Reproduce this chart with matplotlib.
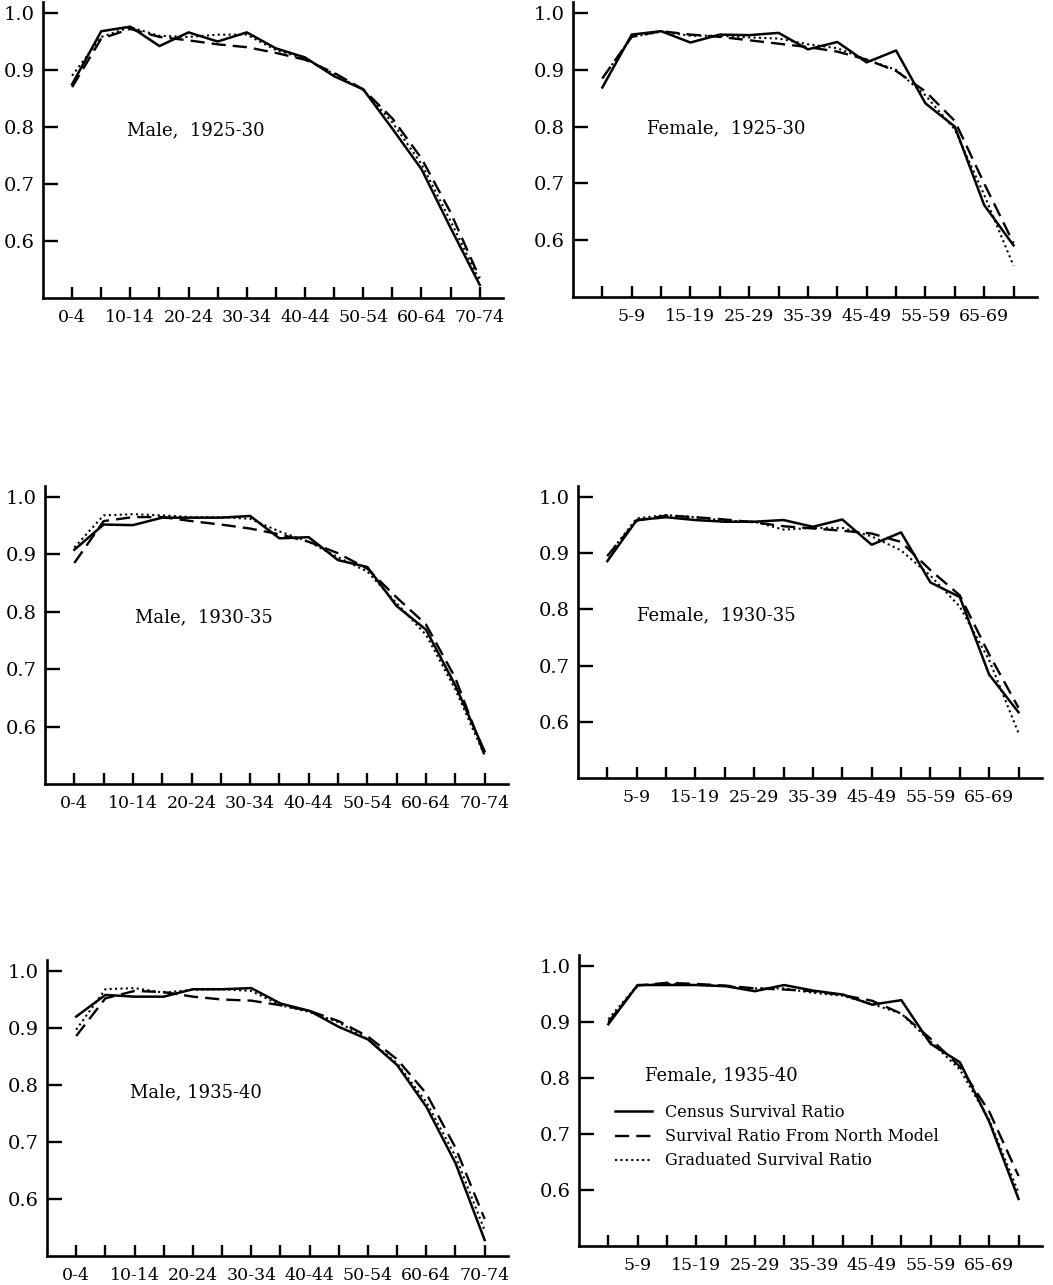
import matplotlib
matplotlib.use("Agg")
from matplotlib import pyplot as plt

# age groups on the x axis
age_groups = ["0-4", "5-9", "10-14", "15-19", "20-24", "25-29", "30-34", "35-39",
              "40-44", "45-49", "50-54", "55-59", "60-64", "65-69", "70-74"]

# Male, 1925-30
male_1925_census = [0.875, 0.968, 0.976, 0.942, 0.966, 0.950, 0.966, 0.938, 0.922, 0.889, 0.866, 0.797, 0.726, 0.623, 0.523]
male_1925_north = [0.870, 0.955, 0.972, 0.958, 0.952, 0.945, 0.940, 0.930, 0.918, 0.895, 0.866, 0.815, 0.745, 0.650, 0.535]
male_1925_grad = [0.890, 0.958, 0.975, 0.960, 0.958, 0.962, 0.962, 0.935, 0.920, 0.893, 0.865, 0.808, 0.735, 0.635, 0.530]

# Female, 1925-30
female_1925_census = [0.869, 0.962, 0.968, 0.948, 0.962, 0.961, 0.965, 0.936, 0.949, 0.913, 0.934, 0.841, 0.800, 0.662, 0.591]
female_1925_north = [0.885, 0.958, 0.968, 0.962, 0.958, 0.952, 0.946, 0.940, 0.932, 0.918, 0.898, 0.862, 0.810, 0.700, 0.595]
female_1925_grad = [0.885, 0.958, 0.967, 0.960, 0.960, 0.957, 0.955, 0.945, 0.938, 0.918, 0.900, 0.855, 0.795, 0.680, 0.555]

# Male, 1930-35
male_1930_census = [0.908, 0.952, 0.951, 0.964, 0.964, 0.964, 0.967, 0.928, 0.930, 0.890, 0.878, 0.810, 0.769, 0.672, 0.557]
male_1930_north = [0.885, 0.958, 0.965, 0.965, 0.958, 0.952, 0.945, 0.935, 0.922, 0.902, 0.875, 0.825, 0.778, 0.685, 0.550]
male_1930_grad = [0.912, 0.968, 0.970, 0.968, 0.965, 0.965, 0.962, 0.940, 0.922, 0.895, 0.870, 0.815, 0.760, 0.665, 0.550]

# Female, 1930-35
female_1930_census = [0.886, 0.959, 0.964, 0.959, 0.956, 0.956, 0.959, 0.947, 0.960, 0.915, 0.937, 0.848, 0.822, 0.684, 0.617]
female_1930_north = [0.895, 0.958, 0.967, 0.964, 0.960, 0.955, 0.948, 0.944, 0.940, 0.935, 0.920, 0.870, 0.825, 0.720, 0.625]
female_1930_grad = [0.895, 0.962, 0.968, 0.964, 0.958, 0.956, 0.942, 0.945, 0.945, 0.930, 0.905, 0.860, 0.805, 0.710, 0.580]

# Male, 1935-40
male_1935_census = [0.920, 0.958, 0.955, 0.955, 0.968, 0.968, 0.970, 0.943, 0.930, 0.902, 0.880, 0.835, 0.762, 0.663, 0.528]
male_1935_north = [0.886, 0.952, 0.965, 0.963, 0.955, 0.950, 0.948, 0.940, 0.930, 0.912, 0.885, 0.845, 0.785, 0.690, 0.565]
male_1935_grad = [0.897, 0.968, 0.970, 0.962, 0.967, 0.968, 0.965, 0.940, 0.928, 0.910, 0.880, 0.838, 0.770, 0.675, 0.545]

# Female, 1935-40
female_1935_census = [0.896, 0.966, 0.966, 0.966, 0.964, 0.955, 0.966, 0.956, 0.949, 0.931, 0.939, 0.861, 0.828, 0.722, 0.584]
female_1935_north = [0.900, 0.965, 0.970, 0.968, 0.965, 0.960, 0.958, 0.955, 0.948, 0.938, 0.915, 0.870, 0.820, 0.740, 0.625]
female_1935_grad = [0.905, 0.966, 0.968, 0.966, 0.964, 0.960, 0.960, 0.952, 0.947, 0.932, 0.915, 0.865, 0.815, 0.725, 0.595]

y_ticks = [0.6, 0.7, 0.8, 0.9, 1.0]
y_tick_labels = ["0.6", "0.7", "0.8", "0.9", "1.0"]

W, H = 1053, 1285
fig = plt.figure(figsize=(W / 100, H / 100), dpi=100)
SERIF = "DejaVu Serif"


def make_axes(left, right, y_one, y_bottom):
    # pixel box -> figure fraction, y range 0.5 .. 1.02
    per = (y_bottom - y_one) / 0.5
    top = y_one - 0.02 * per
    return fig.add_axes([left / W, 1 - y_bottom / H, (right - left) / W, (y_bottom - top) / H])


panels = [
    # (box, title, title pos, male?, series)
    ((43, 503, 13, 298), "Male,  1925-30", (127, 130), True,
     (male_1925_census, male_1925_north, male_1925_grad)),
    ((573, 1037, 13, 297), "Female,  1925-30", (647, 128), False,
     (female_1925_census, female_1925_north, female_1925_grad)),
    ((45, 508, 497, 784), "Male,  1930-35", (135, 617), True,
     (male_1930_census, male_1930_north, male_1930_grad)),
    ((578, 1042, 497, 778), "Female,  1930-35", (637, 615), False,
     (female_1930_census, female_1930_north, female_1930_grad)),
    ((47, 508, 971, 1256), "Male, 1935-40", (130, 1092), True,
     (male_1935_census, male_1935_north, male_1935_grad)),
    ((579, 1042, 966, 1246), "Female, 1935-40", (645, 1075), False,
     (female_1935_census, female_1935_north, female_1935_grad)),
]

x = list(range(len(age_groups)))

for box, title, tpos, is_male, (census, north, grad) in panels:
    ax = make_axes(*box)
    l1, = ax.plot(x, census, color="black", lw=1.8, ls="-")
    l2, = ax.plot(x, north, color="black", lw=1.7, dashes=(6, 3))
    l3, = ax.plot(x, grad, color="black", lw=1.5, dashes=(1, 1.6))

    ax.set_xlim(-1.0, 14.8)
    ax.set_ylim(0.5, 1.02)
    ax.spines["top"].set_visible(False)
    ax.spines["right"].set_visible(False)
    ax.spines["left"].set_linewidth(1.9)
    ax.spines["bottom"].set_linewidth(1.9)

    ax.set_xticks(x)
    if is_male:
        labels = [g if i % 2 == 0 else "" for i, g in enumerate(age_groups)]
    else:
        labels = [g if i % 2 == 1 else "" for i, g in enumerate(age_groups)]
    ax.set_xticklabels(labels, fontsize=12.5, family=SERIF)
    ax.set_yticks(y_ticks)
    ax.set_yticklabels(y_tick_labels, fontsize=14, family=SERIF)
    ax.tick_params(axis="x", direction="in", length=8, width=1.7, pad=8)
    ax.tick_params(axis="y", direction="in", length=11, width=1.7, pad=6)

    fig.text(tpos[0] / W, 1 - tpos[1] / H, title, fontsize=13, family=SERIF, va="center")

    if title.startswith("Female, 1935"):
        ax.legend([l1, l2, l3],
                  ["Census Survival Ratio", "Survival Ratio From North Model",
                   "Graduated Survival Ratio"],
                  loc="upper left", bbox_to_anchor=(615 / W, 1 - 1104 / H),
                  bbox_transform=fig.transFigure, frameon=False,
                  prop={"family": SERIF, "size": 11.5},
                  handlelength=2.3, handletextpad=0.8, labelspacing=0.45,
                  borderpad=0, borderaxespad=0)

fig.savefig("out.png", dpi=100)
